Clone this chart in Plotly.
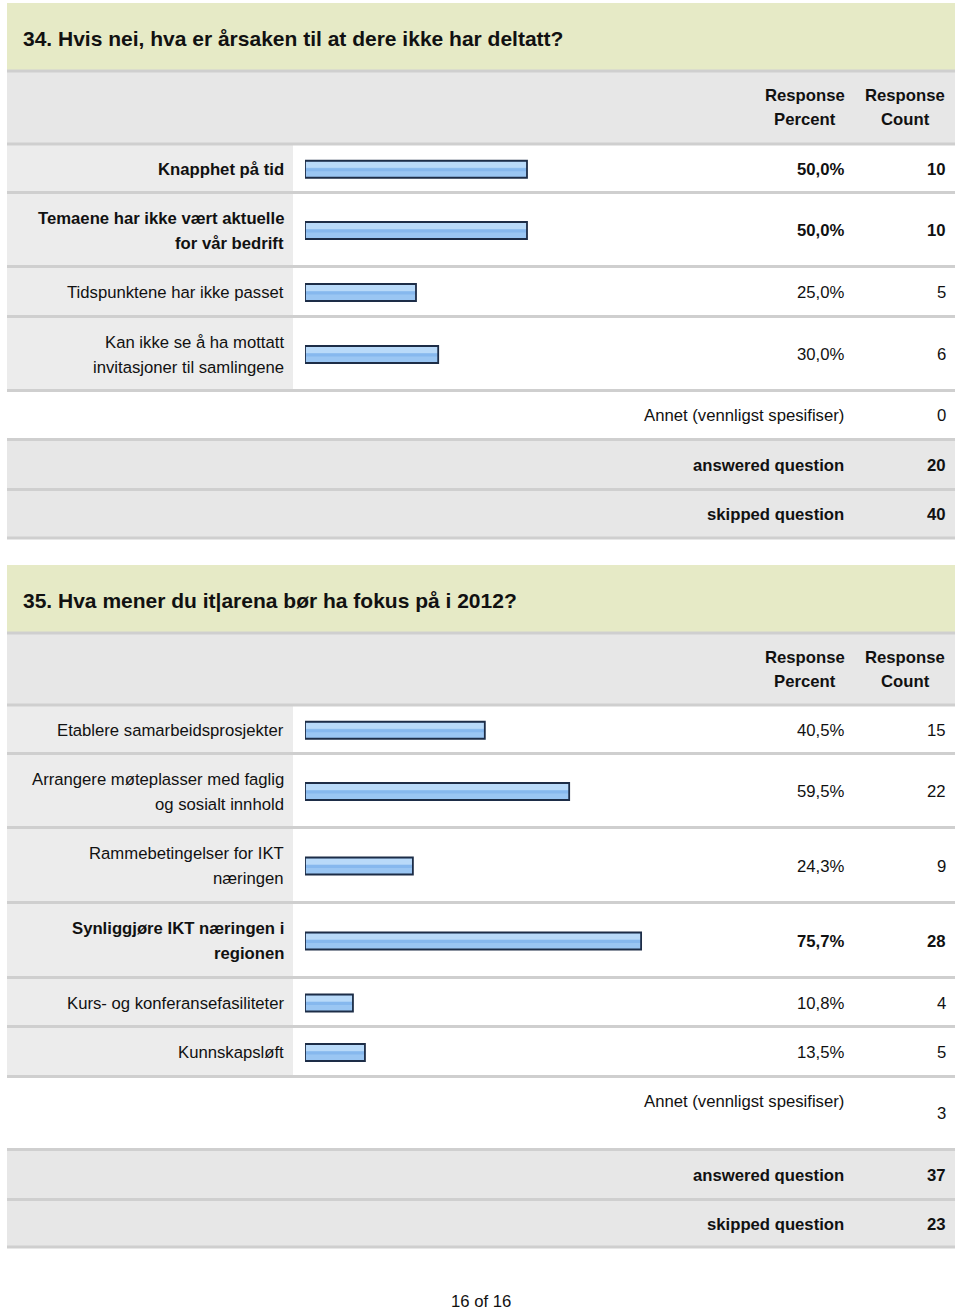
import plotly.graph_objects as go

W, H = 960, 1313

# ---------------- data ----------------
q34_title = "34. Hvis nei, hva er årsaken til at dere ikke har deltatt?"
q34_labels = [
    "Knapphet på tid",
    "Temaene har ikke vært aktuelle<br>for vår bedrift",
    "Tidspunktene har ikke passet",
    "Kan ikke se å ha mottatt<br>invitasjoner til samlingene",
]
q34_percent = [50.0, 50.0, 25.0, 30.0]
q34_count = [10, 10, 5, 6]
q34_other_count = 0
q34_answered = 20
q34_skipped = 40

q35_title = "35. Hva mener du it|arena bør ha fokus på i 2012?"
q35_labels = [
    "Etablere samarbeidsprosjekter",
    "Arrangere møteplasser med faglig<br>og sosialt innhold",
    "Rammebetingelser for IKT<br>næringen",
    "Synliggjøre IKT næringen i<br>regionen",
    "Kurs- og konferansefasiliteter",
    "Kunnskapsløft",
]
q35_percent = [40.5, 59.5, 24.3, 75.7, 10.8, 13.5]
q35_count = [15, 22, 9, 28, 4, 5]
q35_other_count = 3
q35_answered = 37
q35_skipped = 23

header_top = ["Response", "Response"]
header_bottom = ["Percent", "Count"]
other_label = "Annet (vennligst spesifiser)"
answered_label = "answered question"
skipped_label = "skipped question"
page_label = "16 of 16"

# ---------------- layout (pixels) ----------------
X0, X1 = 7, 955
LABEL_CELL_R = 293
LABEL_R = 284.5
PCT_R = 845
CNT_R = 946.5
HDR_PCT_C = 805
HDR_CNT_C = 905
BAR_X0, BAR_X100 = 305, 749
LINE_GAP = 25
TITLE_X = 22
FS = 16.7

s1_bounds = [3, 71, 144, 192.5, 266.5, 316.5, 390.5, 439.5, 489.5, 538]
s2_bounds = [565, 633, 705, 753.5, 827.5, 902.5, 977.5, 1026.5, 1076.5, 1149.5, 1199.5, 1247]

FONT = "Liberation Sans, Arial, Helvetica, sans-serif"
TITLE_FONT = "Liberation Sans Narrow, Arial Narrow, Liberation Sans, sans-serif"
TXT = "#111111"
GREEN = "#e6eac6"
GRAY = "#e7e7e7"
CELL = "#ececec"
SEP = "#cfcfcf"
BAR_FILL = "#9ac6f3"
BAR_HI = "#b9daf9"
BAR_MID = "#86b8ee"
BAR_LINE = "#1d2d47"
BAR_W = 17

fig = go.Figure()
shapes = []
annots = []


def rect(x0, y0, x1, y1, color):
    shapes.append(dict(type="rect", xref="x", yref="y", x0=x0, x1=x1, y0=y0, y1=y1,
                       fillcolor=color, line=dict(width=0), layer="below"))


def sep(y):
    shapes.append(dict(type="rect", xref="x", yref="y", x0=X0, x1=X1, y0=y - 1.4, y1=y + 1.4,
                       fillcolor=SEP, line=dict(width=0), layer="below"))


def text(x, y, s, anchor="right", bold=False, size=FS, family=FONT):
    if bold:
        s = "<b>" + s + "</b>"
    annots.append(dict(xref="x", yref="y", x=x, y=y, text=s, showarrow=False,
                       xanchor=anchor, yanchor="middle", borderpad=0,
                       font=dict(family=family, size=size, color=TXT)))


def multiline(x, yc, s, anchor="right", bold=False):
    parts = s.split("<br>")
    n = len(parts)
    for i, p in enumerate(parts):
        text(x, yc + (i - (n - 1) / 2) * LINE_GAP, p, anchor, bold)


def pct_fmt(p):
    return ("%.1f" % p).replace(".", ",") + "%"


def add_bars(pcts, centers):
    common = dict(x=pcts, y=centers, orientation="h", base=0, xaxis="x2", yaxis="y",
                  hoverinfo="skip", showlegend=False)
    # body
    fig.add_trace(go.Bar(width=BAR_W, marker=dict(color=BAR_FILL, line=dict(width=0)), **common))
    # top highlight
    fig.add_trace(go.Bar(width=6, offset=-BAR_W / 2 + 1, marker=dict(color=BAR_HI, line=dict(width=0)), **common))
    # middle slightly darker band
    fig.add_trace(go.Bar(width=3, offset=-1, marker=dict(color=BAR_MID, line=dict(width=0)), **common))
    # outline
    fig.add_trace(go.Bar(width=BAR_W, marker=dict(color="rgba(0,0,0,0)",
                                                  line=dict(color=BAR_LINE, width=1.8)), **common))


def section(title, labels, pcts, counts, other, answered, skipped, b, other_dy):
    # title band
    rect(X0, b[0], X1, b[1], GREEN)
    text(TITLE_X, (b[0] + b[1]) / 2 + 1, title, anchor="left", bold=True, size=21, family=TITLE_FONT)
    # header
    rect(X0, b[1], X1, b[2], GRAY)
    hc = (b[1] + b[2]) / 2
    for xc, t1, t2 in zip([HDR_PCT_C, HDR_CNT_C], header_top, header_bottom):
        text(xc, hc - 12, t1, anchor="center", bold=True)
        text(xc, hc + 12, t2, anchor="center", bold=True)
    # rows
    mx = max(pcts)
    centers = []
    n = len(labels)
    for i in range(n):
        y0, y1 = b[2 + i], b[3 + i]
        rect(X0, y0, LABEL_CELL_R, y1, CELL)
        yc = (y0 + y1) / 2 + 1
        centers.append(yc)
        bold = pcts[i] == mx
        multiline(LABEL_R, yc, labels[i], bold=bold)
        text(PCT_R, yc, pct_fmt(pcts[i]), bold=bold)
        text(CNT_R, yc, str(counts[i]), bold=bold)
    # other
    y0, y1 = b[2 + n], b[3 + n]
    yc = (y0 + y1) / 2
    text(PCT_R, yc - other_dy, other_label)
    text(CNT_R, yc, str(other))
    # answered / skipped
    for k, (lab, val) in enumerate([(answered_label, answered), (skipped_label, skipped)]):
        y0, y1 = b[3 + n + k], b[4 + n + k]
        rect(X0, y0, X1, y1, GRAY)
        yc = (y0 + y1) / 2 + 1
        text(PCT_R, yc, lab, bold=True)
        text(CNT_R, yc, str(val), bold=True)
    for y in b[1:]:
        sep(y)
    add_bars(pcts, centers)


section(q34_title, q34_labels, q34_percent, q34_count, q34_other_count,
        q34_answered, q34_skipped, s1_bounds, 0)
section(q35_title, q35_labels, q35_percent, q35_count, q35_other_count,
        q35_answered, q35_skipped, s2_bounds, 12)

text(481, 1301, page_label, anchor="center")

fig.update_layout(
    width=W, height=H,
    margin=dict(l=0, r=0, t=0, b=0),
    paper_bgcolor="white", plot_bgcolor="rgba(0,0,0,0)",
    showlegend=False,
    barmode="overlay",
    xaxis=dict(range=[0, W], domain=[0, 1], visible=False, fixedrange=True),
    yaxis=dict(range=[H, 0], domain=[0, 1], visible=False, fixedrange=True),
    xaxis2=dict(range=[0, 100], domain=[BAR_X0 / W, BAR_X100 / W], anchor="y",
                visible=False, fixedrange=True),
    shapes=shapes,
    annotations=annots,
)

fig.write_html("out.html", config={"displayModeBar": False})
